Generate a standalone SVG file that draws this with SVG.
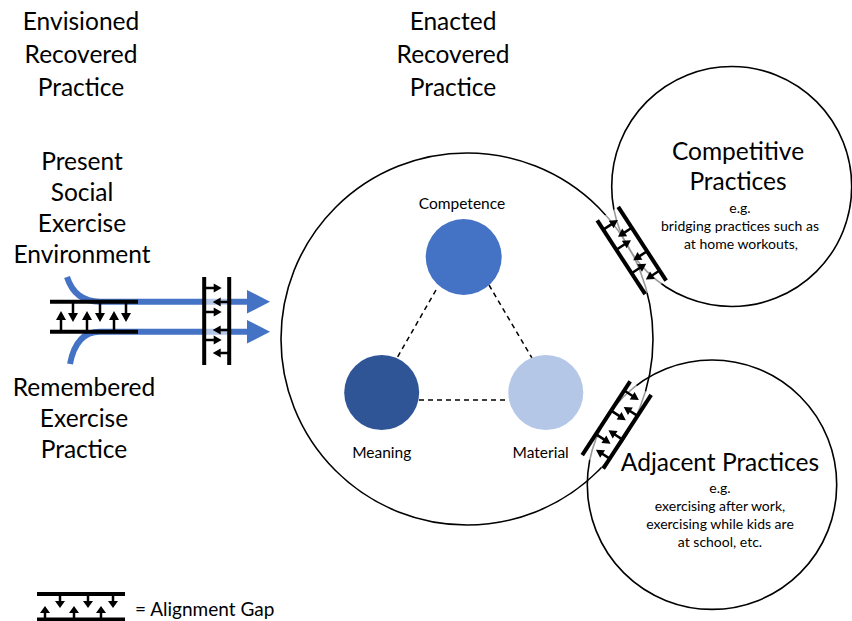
<svg xmlns="http://www.w3.org/2000/svg" xmlns:xlink="http://www.w3.org/1999/xlink" width="852" height="621" viewBox="0 0 852 621">
<style>
text{font-family:Lato,"Open Sans","Liberation Sans",sans-serif;fill:#000;text-anchor:middle}
.big{font-size:24.5px}
.mid{font-size:15.5px}
.sm{font-size:14px}
.ring{fill:none;stroke:#000;stroke-width:1.6}
.bar{stroke:#000;stroke-width:4;fill:none}
.shaft{stroke:#000;stroke-width:2.5;fill:none}
.head{fill:#000}
.blue{stroke:#4472C4;stroke-width:6;fill:none}
.dash{stroke:#000;stroke-width:1.5;stroke-dasharray:5 4;fill:none}
</style>
<defs>
<g id="gapV">
<rect x="-12.5" y="-44" width="25" height="88" fill="#fff" fill-opacity="0.6"/>
<line class="bar" x1="-12.5" y1="-44" x2="-12.5" y2="44"/>
<line class="bar" x1="12.5" y1="-44" x2="12.5" y2="44"/>
<path class="shaft" d="M-12.5,-33H-2M-12.5,-9H-2M-12.5,19H-2M12.5,-19H3.5M12.5,9H3.5M12.5,32H3.5"/>
<path class="head" d="M-3,-37.5L5,-33L-3,-28.5ZM-3,-13.5L5,-9L-3,-4.5ZM-3,14.5L5,19L-3,23.5ZM4,-23.5L-4,-19L4,-14.5ZM4,4.5L-4,9L4,13.5ZM4,27.5L-4,32L4,36.5Z"/>
</g>
</defs>

<g id="titles">
<text class="big" x="81" y="30">Envisioned</text>
<text class="big" x="81" y="63">Recovered</text>
<text class="big" x="81" y="96">Practice</text>
<text class="big" x="453" y="30">Enacted</text>
<text class="big" x="453" y="63">Recovered</text>
<text class="big" x="453" y="96">Practice</text>
</g>

<g id="present-env">
<text class="big" x="82" y="170">Present</text>
<text class="big" x="82" y="201">Social</text>
<text class="big" x="82" y="232">Exercise</text>
<text class="big" x="82" y="263">Environment</text>
</g>
<g id="remembered">
<text class="big" x="84" y="396">Remembered</text>
<text class="big" x="84" y="427">Exercise</text>
<text class="big" x="84" y="458">Practice</text>
</g>

<g id="connectors">
<path class="blue" d="M67,277Q75,301.7 100,301.7H250"/>
<path style="fill:#4472C4" d="M247,290L270,301.7L247,313.5Z"/>
<path class="blue" d="M70,364Q76,331.7 100,331.7H250"/>
<path style="fill:#4472C4" d="M247,320L270,331.7L247,343.5Z"/>
<line class="dash" x1="436" y1="290" x2="397" y2="358"/>
<line class="dash" x1="489" y1="285" x2="532" y2="358"/>
<line class="dash" x1="419" y1="400" x2="508" y2="400"/>
</g>

<g id="gap-left">
<line class="bar" x1="50" y1="301.7" x2="138" y2="301.7"/>
<line class="bar" x1="50" y1="331.7" x2="138" y2="331.7"/>
<path class="shaft" d="M73,302V314M100,302V314M126,302V314M61,331V319M87,331V319M114,331V319"/>
<path class="head" d="M68,313L78,313L73,322ZM95,313L105,313L100,322ZM121,313L131,313L126,322ZM56,320L66,320L61,311ZM82,320L92,320L87,311ZM109,320L119,320L114,311Z"/>
</g>

<g id="gap-enacted">
<use xlink:href="#gapV" href="#gapV" transform="translate(216.7,321)"/>
</g>

<g id="enacted">
<circle class="ring" cx="467" cy="339" r="186"/>
</g>

<g id="competence">
<circle cx="463.7" cy="257" r="38" fill="#4472C4"/>
<text class="mid" x="462" y="209">Competence</text>
</g>
<g id="meaning">
<circle cx="381.7" cy="392.5" r="37.5" fill="#2F5597"/>
<text class="mid" x="381.7" y="458">Meaning</text>
</g>
<g id="material">
<circle cx="545.8" cy="392.5" r="37.5" fill="#B4C7E7"/>
<text class="mid" x="540.7" y="458">Material</text>
</g>

<g id="competitive">
<circle class="ring" cx="731.7" cy="186.5" r="120"/>
<text class="big" x="738" y="160">Competitive</text>
<text class="big" x="738" y="190">Practices</text>
<text class="sm" x="740" y="213">e.g.</text>
<text class="sm" x="740" y="231" textLength="158" lengthAdjust="spacing">bridging practices such as</text>
<text class="sm" x="741" y="249">at home workouts,</text>
</g>

<g id="adjacent">
<circle class="ring" cx="712" cy="484.7" r="124.7"/>
<text class="big" x="720" y="471">Adjacent Practices</text>
<text class="sm" x="720" y="493">e.g.</text>
<text class="sm" x="720" y="511">exercising after work,</text>
<text class="sm" x="720" y="529">exercising while kids are</text>
<text class="sm" x="720" y="547">at school, etc.</text>
</g>

<g id="gap-competitive">
<use xlink:href="#gapV" href="#gapV" transform="translate(631.7,250.5) rotate(-33)"/>
</g>
<g id="gap-adjacent">
<use xlink:href="#gapV" href="#gapV" transform="translate(616.7,425) rotate(33)"/>
</g>

<g id="legend">
<line class="bar" x1="37" y1="594" x2="125" y2="594"/>
<line class="bar" x1="37" y1="619.5" x2="125" y2="619.5"/>
<path class="shaft" d="M60,594V602M88,594V602M113,594V602M45,619V612M74,619V612M101,619V612"/>
<path class="head" d="M55,601L65,601L60,608ZM83,601L93,601L88,608ZM108,601L118,601L113,608ZM40,613L50,613L45,606ZM69,613L79,613L74,606ZM96,613L106,613L101,606Z"/>
<text x="135" y="616" style="font-size:19px;text-anchor:start">= Alignment Gap</text>
</g>
</svg>
